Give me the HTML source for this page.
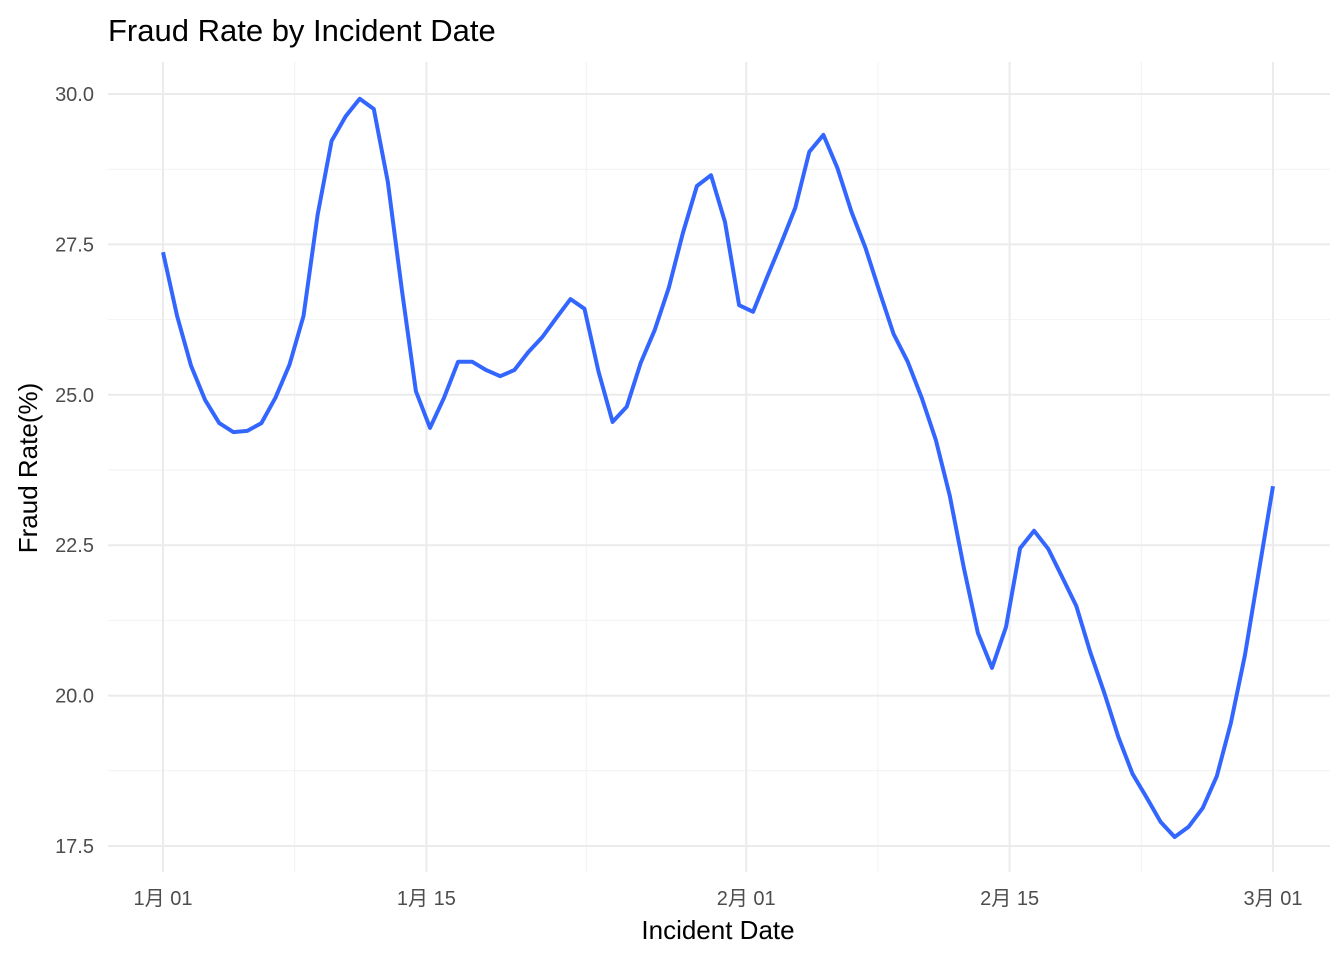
<!DOCTYPE html>
<html><head><meta charset="utf-8"><style>
body{margin:0;background:#fff;}
svg text{font-family:"Liberation Sans","Noto Sans CJK JP",sans-serif;}
</style></head><body>
<svg width="1344" height="960" viewBox="0 0 1344 960">
<g id="grid"></g>
<g id="ticks"></g>
<path id="line" fill="none" stroke="#3366ff" stroke-width="4" stroke-linejoin="round"/>
<text x="108" y="41" font-size="31" fill="#000">Fraud Rate by Incident Date</text>
<text x="718" y="939" font-size="26" text-anchor="middle" fill="#000">Incident Date</text>
<text transform="translate(37,468) rotate(-90)" font-size="26" text-anchor="middle" fill="#000">Fraud Rate(%)</text>
</svg>
<script>
const values=[27.37,26.31,25.48,24.91,24.53,24.38,24.40,24.53,24.95,25.50,26.31,27.99,29.22,29.63,29.92,29.75,28.54,26.74,25.06,24.45,24.95,25.55,25.55,25.41,25.31,25.41,25.71,25.96,26.28,26.59,26.43,25.38,24.55,24.80,25.53,26.08,26.78,27.69,28.47,28.65,27.87,26.49,26.38,26.96,27.52,28.11,29.04,29.32,28.77,28.04,27.44,26.71,26.01,25.55,24.95,24.25,23.32,22.12,21.04,20.46,21.14,22.45,22.74,22.44,21.97,21.49,20.72,20.04,19.31,18.70,18.31,17.90,17.65,17.82,18.13,18.66,19.54,20.67,22.07,23.48];
const dayOffsets=values.map((v,i)=>i*59/(values.length-1));
const yTicks=[17.5,20.0,22.5,25.0,27.5,30.0];
const yMinor=[18.75,21.25,23.75,26.25,28.75];
const xTickDays=[0,14,31,45,59];
const xTickLabels=["1月 01","1月 15","2月 01","2月 15","3月 01"];
const xMinorDays=[7,22.5,38,52];
const X=d=>163+d*(1273-163)/59;
const Y=v=>94+(30-v)*(846-94)/12.5;
const NS="http://www.w3.org/2000/svg";
const grid=document.getElementById('grid'),ticks=document.getElementById('ticks');
function ln(x1,y1,x2,y2,w,c,name){const l=document.createElementNS(NS,'line');
l.setAttribute('x1',x1);l.setAttribute('y1',y1);l.setAttribute('x2',x2);l.setAttribute('y2',y2);
l.setAttribute('stroke',c);l.setAttribute('stroke-width',w);


grid.appendChild(l);}
function tx(x,y,s,anchor,name){const t=document.createElementNS(NS,'text');
t.setAttribute('x',x);t.setAttribute('y',y);t.setAttribute('font-size','20');t.setAttribute('fill','#4d4d4d');t.setAttribute('text-anchor',anchor);t.textContent=s;


ticks.appendChild(t);}
yMinor.forEach(v=>ln(108,Y(v),1330,Y(v),1,'#f2f2f2','y-minor-gridline'));
xMinorDays.forEach(d=>ln(X(d),62,X(d),872,1,'#f2f2f2','x-minor-gridline'));
yTicks.forEach(v=>{ln(108,Y(v),1330,Y(v),2,'#ebebeb','y-gridline');tx(94,Y(v)+7,v.toFixed(1),'end','y-tick-label');});
xTickDays.forEach((d,i)=>{ln(X(d),62,X(d),872,2,'#ebebeb','x-gridline');tx(X(d),905,xTickLabels[i],'middle','x-tick-label');});
document.getElementById('line').setAttribute('d',values.map((v,i)=>(i?'L':'M')+X(dayOffsets[i]).toFixed(1)+','+Y(v).toFixed(1)).join(''));
</script>
</body></html>
